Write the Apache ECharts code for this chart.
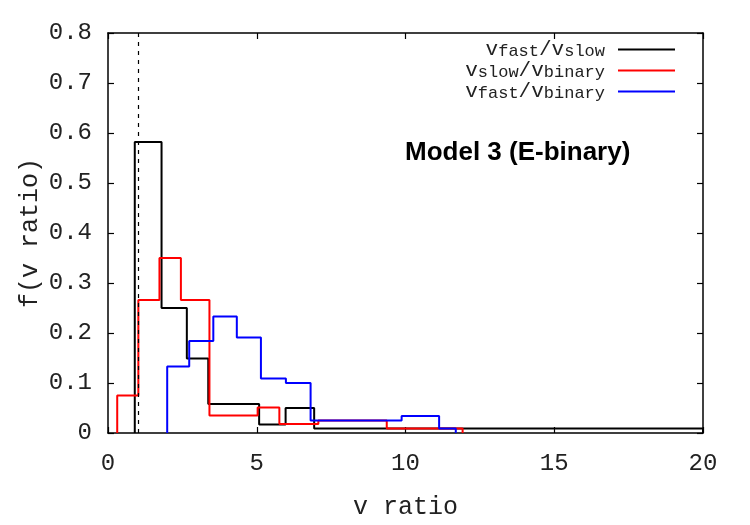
<!DOCTYPE html>
<html>
<head>
<meta charset="utf-8">
<script src="https://cdn.jsdelivr.net/npm/echarts@6/dist/echarts.min.js"></script>
<style>
  html, body { margin: 0; padding: 0; background: #fff; }
  #chart { width: 750px; height: 525px; }
</style>
</head>
<body>
<div id="chart"></div>
<script>
// bin edges and heights
const blackEdges = [0.90, 1.80, 2.65, 3.37, 5.08, 5.97, 6.93, 20];
const blackVals = [0.582, 0.250, 0.149, 0.058, 0.017, 0.050, 0.009];

const redEdges = [0.31, 1.02, 1.73, 2.45, 3.41, 5.03, 5.76, 7.07, 9.37, 11.92];
const redVals = [0.075, 0.266, 0.350, 0.266, 0.035, 0.051, 0.018, 0.025, 0.009];

const blueEdges = [1.99, 2.73, 3.54, 4.33, 5.14, 5.98, 6.81, 9.87, 11.13, 11.69];
const blueVals = [0.133, 0.184, 0.233, 0.191, 0.109, 0.100, 0.025, 0.034, 0.009];

const seriesNames = ['vfast/vslow', 'vslow/vbinary', 'vfast/vbinary'];
// legend text pieces: v{sub}/v{sub}
const legendParts = {
    'vfast/vslow': ['fast', 'slow'],
    'vslow/vbinary': ['slow', 'binary'],
    'vfast/vbinary': ['fast', 'binary']
};
const cutLine = 1.0;

const mono = 'Liberation Mono';

// histogram -> step points
function histPoints(edges, vals) {
    let d = [[edges[0], 0]];
    for (let i = 0; i < vals.length; i++) {
        d.push([edges[i], vals[i]]);
    }
    d.push([edges[edges.length - 1], vals[vals.length - 1]]);
    d.push([edges[edges.length - 1], 0]);
    return d;
}

function histSeries(name, color, edges, vals) {
    return {
        name: name,
        type: 'line',
        step: 'end',
        symbol: 'none',
        color: color,
        lineStyle: { color: color, width: 2 },
        data: histPoints(edges, vals)
    };
}

var myChart = echarts.init(document.getElementById('chart'));

let black = histSeries(seriesNames[0], '#000000', blackEdges, blackVals);
black.markLine = {
    silent: true,
    symbol: 'none',
    label: { show: false },
    lineStyle: { color: '#000', type: [4, 5], width: 1.2 },
    data: [{ xAxis: cutLine }]
};

var option = {
    animation: false,
    title: {
        text: 'Model 3 (E-binary)',
        left: 405,
        top: 140,
        padding: 0,
        textStyle: { fontFamily: 'Liberation Sans', fontWeight: 'bold', fontSize: 26, color: '#000' }
    },
    legend: {
        data: seriesNames,
        orient: 'vertical',
        align: 'right',
        right: 70,
        top: 30,
        itemWidth: 57,
        itemHeight: 2,
        itemGap: -4,
        icon: 'rect',
        formatter: function (name) {
            let p = legendParts[name];
            return '{m|v}{s|' + p[0] + '}{m|/v}{s|' + p[1] + '}';
        },
        textStyle: {
            padding: [0, 8, 0, 0],
            rich: {
                m: { fontFamily: mono, fontSize: 21, lineHeight: 21, verticalAlign: 'top', color: '#222' },
                s: { fontFamily: mono, fontSize: 17, lineHeight: 17, verticalAlign: 'bottom', padding: [8, 0, 0, 0], color: '#222' }
            }
        }
    },
    grid: { left: 108, right: 47, top: 33, bottom: 90 },
    xAxis: [{
        type: 'value',
        min: 0,
        max: 20,
        interval: 5,
        name: 'v ratio',
        nameLocation: 'middle',
        nameGap: 62,
        nameMoveOverlap: false,
        nameTextStyle: { fontFamily: mono, fontSize: 25, color: '#222' },
        axisLine: { onZero: false, lineStyle: { color: '#000', width: 1.5 } },
        axisTick: { inside: true, length: 6, lineStyle: { color: '#000', width: 1.2 } },
        axisLabel: { margin: 19, fontFamily: mono, fontSize: 24, color: '#222' },
        splitLine: { show: false }
    }, {
        type: 'value',
        position: 'top',
        min: 0,
        max: 20,
        interval: 5,
        axisLine: { onZero: false, lineStyle: { color: '#000', width: 1.5 } },
        axisTick: { inside: true, length: 6, lineStyle: { color: '#000', width: 1.2 } },
        axisLabel: { show: false },
        splitLine: { show: false }
    }],
    yAxis: [{
        type: 'value',
        min: 0,
        max: 0.8,
        interval: 0.1,
        name: 'f(v ratio)',
        nameLocation: 'middle',
        nameGap: 65,
        nameMoveOverlap: false,
        nameTextStyle: { fontFamily: mono, fontSize: 25, color: '#222' },
        axisLine: { onZero: false, lineStyle: { color: '#000', width: 1.5 } },
        axisTick: { inside: true, length: 6, lineStyle: { color: '#000', width: 1.2 } },
        axisLabel: {
            margin: 16,
            fontFamily: mono,
            fontSize: 24,
            color: '#222',
            formatter: function (v) { return v === 0 ? '0' : v.toFixed(1); }
        },
        splitLine: { show: false }
    }, {
        type: 'value',
        position: 'right',
        min: 0,
        max: 0.8,
        interval: 0.1,
        axisLine: { onZero: false, lineStyle: { color: '#000', width: 1.5 } },
        axisTick: { inside: true, length: 6, lineStyle: { color: '#000', width: 1.2 } },
        axisLabel: { show: false },
        splitLine: { show: false }
    }],
    series: [
        black,
        histSeries(seriesNames[1], '#ff0000', redEdges, redVals),
        histSeries(seriesNames[2], '#0000ff', blueEdges, blueVals)
    ]
};

myChart.setOption(option);
</script>
</body>
</html>
